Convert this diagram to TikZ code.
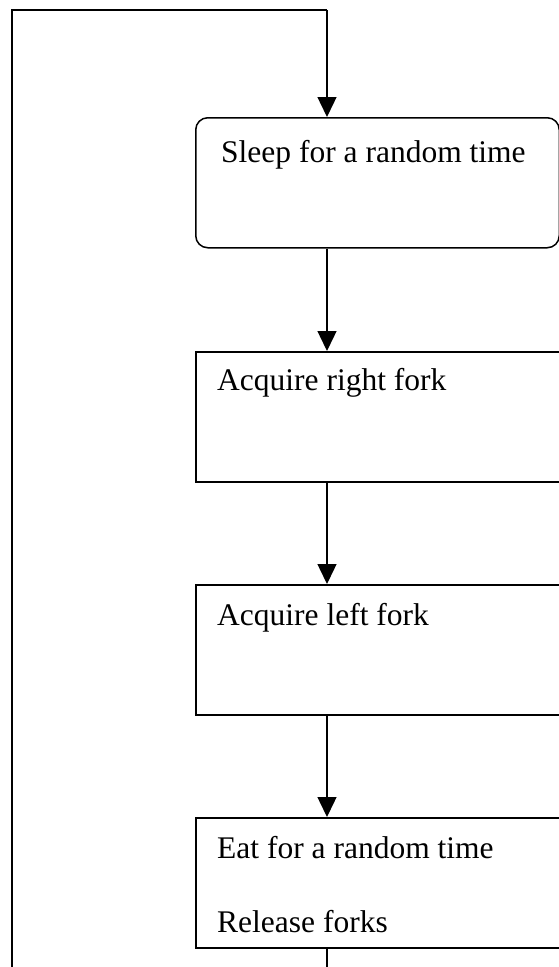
\documentclass[tikz,border=0pt]{standalone}
\usepackage{fontspec}
\setmainfont{Liberation Serif}
\usetikzlibrary{arrows.meta}
\begin{document}
\begin{tikzpicture}[x=1pt,y=-1pt,
  stepbox/.style={draw, line width=1.5pt, anchor=north west, inner sep=0pt,
    minimum width=363.5pt, minimum height=130pt},
  roundbox/.style={stepbox, rounded corners=12pt},
  lbl/.style={anchor=base west, inner sep=0pt, font=\fontsize{31.5}{38}\selectfont},
  flow/.style={line width=1.4pt, -{Triangle[length=20pt,width=19pt]}},
  wire/.style={line width=1.4pt}]
  \useasboundingbox (0,0) rectangle (559,967);

  % spine of the flow and the loop-back rail
  \coordinate (spine) at (327,0);
  \coordinate (railtop) at (12,10);
  \coordinate (railbot) at (12,967);
  \coordinate (loopend) at (327,967);

  % steps
  \node[roundbox] (b1) at (195,117) {};
  \node[stepbox]  (b2) at (195,351) {};
  \node[stepbox]  (b3) at (195,584) {};
  \node[stepbox]  (b4) at (195,817) {};

  \node[lbl] (t1) at (221,162) {Sleep for a random time};
  \node[lbl] (t2) at (217,390) {Acquire right fork};
  \node[lbl] (t3) at (217,625) {Acquire left fork};
  \node[lbl] (t4) at (217,858) {Eat for a random time};
  \node[lbl] (t5) at (217,932) {Release forks};

  % loop back to the start
  \draw[wire] (railbot) -- (railtop) -- (railtop -| spine);
  \draw[flow] (railtop -| spine) -- (b1.north -| spine);

  % step to step
  \draw[flow] (b1.south -| spine) -- (b2.north -| spine);
  \draw[flow] (b2.south -| spine) -- (b3.north -| spine);
  \draw[flow] (b3.south -| spine) -- (b4.north -| spine);
  \draw[wire] (b4.south -| spine) -- (loopend);
\end{tikzpicture}
\end{document}
